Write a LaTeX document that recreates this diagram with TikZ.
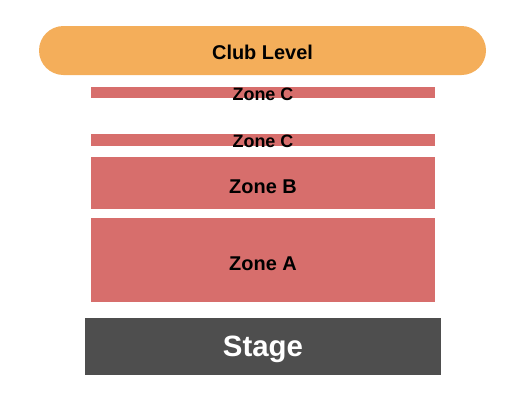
\documentclass[tikz,border=0pt]{standalone}
\usepackage{fontspec}
\setmainfont{Liberation Sans}
\definecolor{club}{HTML}{F4AE5A}
\definecolor{zone}{HTML}{D76E6C}
\definecolor{stagec}{HTML}{4E4E4E}
\begin{document}
\begin{tikzpicture}[x=1bp,y=-1bp,
  lbl/.style={font=\bfseries\fontsize{#1}{#1}\selectfont, text=black, inner sep=0pt, anchor=center},
  zonebox/.style={fill=zone, draw=none}]
\useasboundingbox (0,0) rectangle (525,400);
\fill[club, rounded corners=24.5bp] (39,26) rectangle (486,75);
\node[lbl=20] (club) at (262.5,52) {Club Level};
\fill[zonebox] (91,87) rectangle (435,98);
\node[lbl=18] (zc1) at (263,94) {Zone C};
\fill[zonebox] (91,134) rectangle (435,146);
\node[lbl=18] (zc2) at (263,141) {Zone C};
\fill[zonebox] (91,157) rectangle (435,209);
\node[lbl=20] (zb) at (263,187) {Zone B};
\fill[zonebox] (91,218) rectangle (435,302);
\node[lbl=20] (za) at (263,264) {Zone A};
\fill[stagec] (85,318) rectangle (441,375);
\node[lbl=29.5, text=white] (stage) at (263,349.5) {Stage};
\end{tikzpicture}
\end{document}
